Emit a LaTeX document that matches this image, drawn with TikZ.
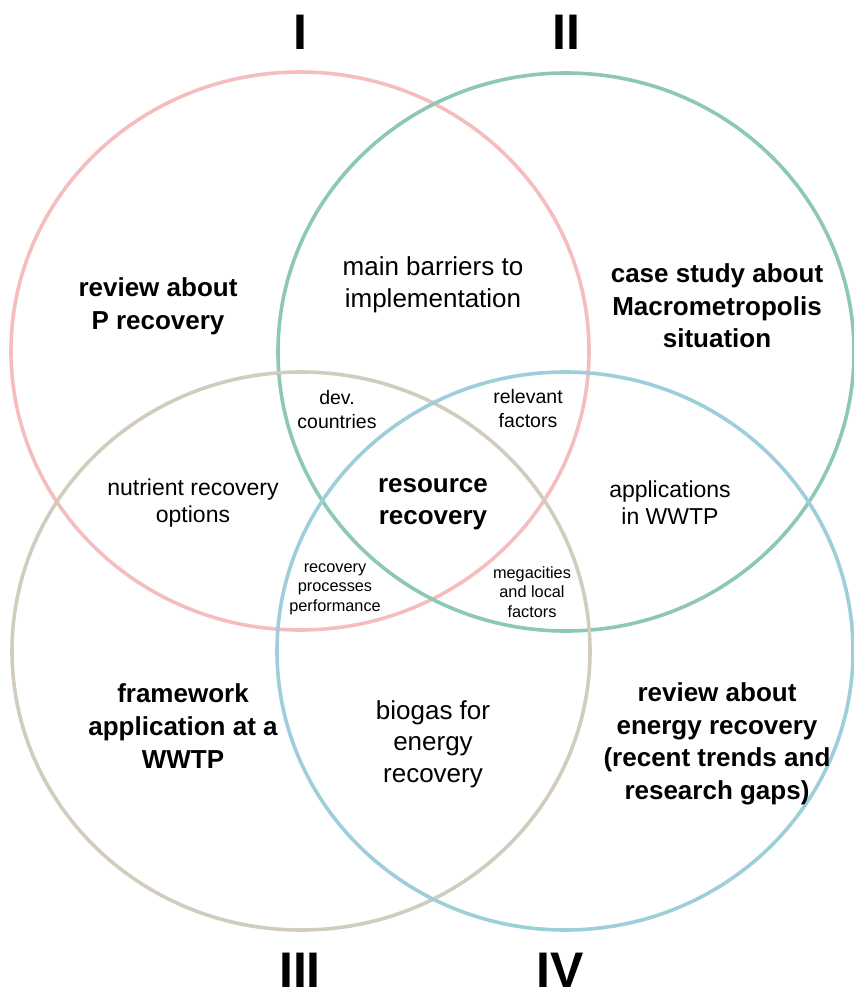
\documentclass[tikz,border=0pt]{standalone}
\usepackage{fontspec}
\setmainfont{Liberation Sans}
\usetikzlibrary{positioning}
\definecolor{ringI}{RGB}{246,189,190}
\definecolor{ringII}{RGB}{141,200,178}
\definecolor{ringIII}{RGB}{209,204,190}
\definecolor{ringIV}{RGB}{157,206,217}
\begin{document}
\begin{tikzpicture}[x=1pt,y=-1pt,
		ring/.style={line width=3.6pt},
		numeral/.style={font=\bfseries\fontsize{50}{50}\selectfont,inner sep=0pt,anchor=base},
		topic/.style={align=center,font=\bfseries\fontsize{26}{32.6}\selectfont},
		area/.style={align=center,font=\fontsize{26}{31.5}\selectfont},
		areasm/.style={align=center,font=\fontsize{23}{27}\selectfont},
		tiny/.style={align=center,font=\fontsize{19.5}{24}\selectfont},
		tinier/.style={align=center,font=\fontsize{16.3}{19.5}\selectfont}]
			\useasboundingbox (0,0) rectangle (854,994);
			\draw[ring, ringI] (300,351) ellipse (289 and 279);
			\draw[ring, ringII] (566,352) ellipse (288 and 279);
			\draw[ring, ringIII] (301,651) ellipse (289 and 279);
			\draw[ring, ringIV] (565,651) ellipse (288 and 279);
			\node[numeral] (numI) at (300,49) {I};
			\node[numeral] (numII) at (566,49) {II};
			\node[numeral] (numIII) at (300,987) {III};
			\node[numeral] (numIV) at (560,987) {IV};
			\node[topic] (pRev) at (158,306) {review about\\P recovery};
			\node[area] (barriers) at (433,285) {main barriers to\\implementation};
			\node[topic] (caseStudy) at (717,306) {case study about\\Macrometropolis\\situation};
			\node[tiny] (devC) at (337,410) {dev.\\countries};
			\node[tiny] (relF) at (528,409) {relevant\\factors};
			\node[areasm] (nutOpt) at (193,503) {nutrient recovery\\options};
			\node[topic] (resRec) at (433,504) {resource\\recovery};
			\node[areasm] (apps) at (670,503) {applications\\in WWTP};
			\node[tinier] (procPerf) at (335,589) {recovery\\processes\\performance};
			\node[tinier] (megaC) at (532,592) {megacities\\and local\\factors};
			\node[topic] (frame) at (183,726) {framework\\application at a\\WWTP};
			\node[area] (biogas) at (433,744) {biogas for\\energy\\recovery};
			\node[topic] (eRev) at (717,744) {review about\\energy recovery\\(recent trends and\\research gaps)};
		\end{tikzpicture}
\end{document}
